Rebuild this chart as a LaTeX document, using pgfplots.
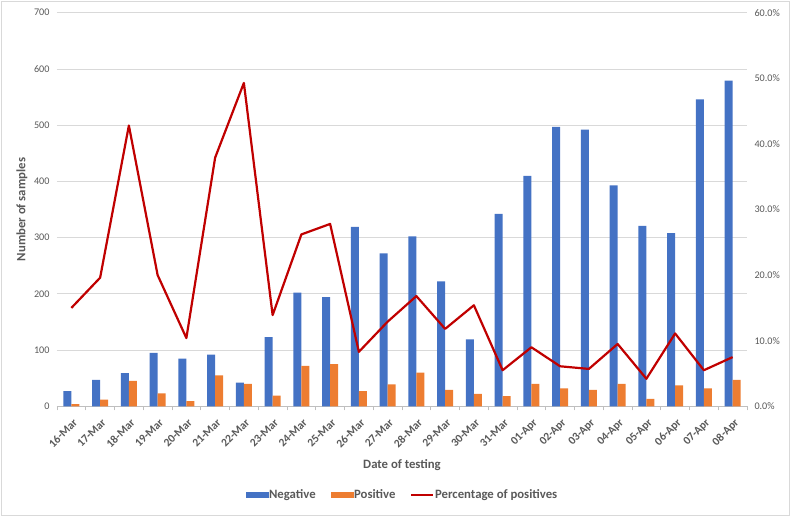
\documentclass[border=0pt]{standalone}
\usepackage{pgfplots}
\usepackage{pgfplotstable}
\pgfplotsset{compat=1.18}
\usepackage{fontspec}
\setmainfont{Carlito}
\definecolor{negblue}{HTML}{4472C4}
\definecolor{posorange}{HTML}{ED7D31}
\definecolor{linered}{HTML}{C00000}
\definecolor{txtgray}{HTML}{595959}
\definecolor{gridgray}{HTML}{D9D9D9}
\definecolor{axgray}{HTML}{BFBFBF}
\pgfplotstableread{
x neg pos pct
0 27 4 15.0
1 47 12 19.6
2 59 45 42.8
3 95 23 20.0
4 85 9 10.4
5 92 55 37.9
6 42 40 49.3
7 123 19 13.9
8 202 72 26.2
9 194 75 27.8
10 319 27 8.3
11 272 39 12.9
12 302 60 16.8
13 222 29 11.8
14 119 22 15.4
15 342 18 5.5
16 410 40 9.0
17 497 32 6.1
18 492 29 5.7
19 393 40 9.5
20 321 13 4.2
21 308 37 11.1
22 546 32 5.5
23 579 47 7.5
}\data
\begin{document}
\begin{tikzpicture}
\path[use as bounding box] (-57bp,-110.7bp) rectangle (733bp,406.3bp);
\draw[gridgray, line width=0.8bp] (-56bp,-109.5bp) rectangle (732bp,405bp);
\begin{axis}[
  at={(0,0)}, anchor=south west,
  scale only axis, width=690bp, height=393.6bp,
  /pgf/number format/assume math mode=true,
  xmin=-0.5, xmax=23.5, ymin=0, ymax=700,
  ytick={0,100,...,700},
  ymajorgrids, grid style={gridgray, line width=0.8bp},
  axis x line*=bottom, axis y line*=left,
  x axis line style={axgray, line width=0.8bp, -},
  y axis line style={draw=none},
  xtick={0,...,23},
  xticklabels={16-Mar,17-Mar,18-Mar,19-Mar,20-Mar,21-Mar,22-Mar,23-Mar,24-Mar,25-Mar,26-Mar,27-Mar,28-Mar,29-Mar,30-Mar,31-Mar,01-Apr,02-Apr,03-Apr,04-Apr,05-Apr,06-Apr,07-Apr,08-Apr},
  minor xtick={-0.5,0.5,...,23.5},
  major tick length=0pt, minor tick length=4bp,
  xtick align=outside,
  minor x tick style={axgray, line width=0.8bp},
  xticklabel style={xshift=1bp, yshift=-10bp, rotate=45, anchor=north east, font=\bfseries\fontsize{11.5}{13}\selectfont, text=txtgray, inner sep=1bp},
  yticklabel style={font=\fontsize{10.2}{12}\selectfont, text=txtgray, xshift=-4bp},
  xlabel={Date of testing},
  xlabel style={at={(rel axis cs:0.5,0)}, anchor=center, yshift=-58.7bp, font=\bfseries\fontsize{12.8}{15}\selectfont, text=txtgray},
  ylabel={Number of samples},
  ylabel style={at={(axis description cs:-0.0507,0.5)}, anchor=center, font=\bfseries\fontsize{12.8}{15}\selectfont, text=txtgray},
  ybar=0pt, bar width=8bp,
]
\addplot[fill=negblue, draw=none] table[x=x, y=neg] {\data};
\addplot[fill=posorange, draw=none] table[x=x, y=pos] {\data};
\end{axis}
\begin{axis}[
  at={(0,0)}, anchor=south west,
  scale only axis, width=690bp, height=393.6bp,
  /pgf/number format/assume math mode=true,
  xmin=-0.5, xmax=23.5, ymin=0, ymax=60,
  ytick={0,10,...,60},
  axis x line=none, axis y line*=right,
  y axis line style={draw=none},
  major tick length=0pt,
  yticklabel={\pgfmathprintnumber[fixed,fixed zerofill,precision=1]{\tick}\%},
  yticklabel style={font=\fontsize{10.2}{12}\selectfont, text=txtgray, xshift=4bp},
  legend style={at={(0.5,-0.2254)}, anchor=center, draw=none, fill=none,
    legend columns=3, font=\bfseries\fontsize{12.8}{15}\selectfont, text=txtgray,
    /tikz/every even column/.append style={column sep=14bp},
    /tikz/every odd column/.append style={column sep=0bp},
    nodes={inner sep=1bp}},
  legend cell align=left,
]
\addlegendimage{legend image code/.code={\fill[negblue] (0bp,-2.6bp) rectangle (22bp,2.6bp);}}
\addlegendentry{Negative}
\addlegendimage{legend image code/.code={\fill[posorange] (0bp,-2.6bp) rectangle (22bp,2.6bp);}}
\addlegendentry{Positive}
\addplot[linered, line width=2.2bp, line join=round, mark=none, legend image code/.code={\draw[linered, line width=1.6bp] (0bp,0bp) -- (22bp,0bp);}] table[x=x, y=pct] {\data};
\addlegendentry{Percentage of positives}
\end{axis}
\end{tikzpicture}
\end{document}
